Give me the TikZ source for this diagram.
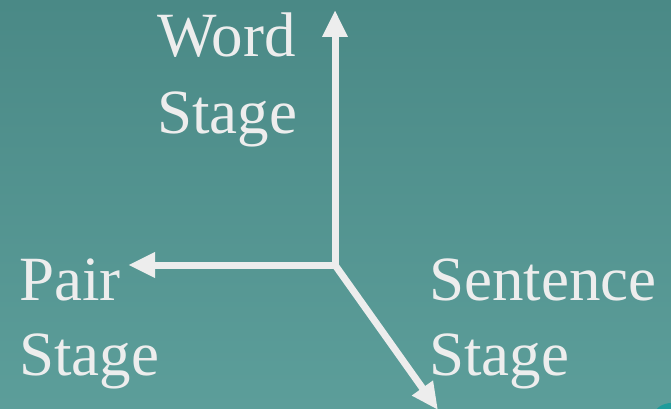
\documentclass[tikz,border=0pt]{standalone}
\usepackage{fontspec}
\setmainfont{Liberation Serif}
\usetikzlibrary{arrows.meta}
\definecolor{bgtop}{HTML}{4A8986}
\definecolor{bgbot}{HTML}{5C9E9A}
\definecolor{ink}{HTML}{EDEDED}
\definecolor{accent}{HTML}{1E9C9B}
\tikzset{
  axis/.style={draw=ink, line width=7pt, -{Triangle[width=24pt,length=27pt]}},
  label/.style={text=ink, inner sep=0pt, anchor=base west, font=\rmfamily\fontsize{63}{76}\selectfont},
}
\begin{document}
\begin{tikzpicture}[x=1pt,y=-1pt]
  % background
  \shade[top color=bgtop, bottom color=bgbot] (0,0) rectangle (671,409);
  \useasboundingbox (0,0) rectangle (671,409);
  \begin{scope}
    \clip (0,0) rectangle (671,409);
    \fill[accent] (672,414) ellipse (17pt and 11pt);
  \end{scope}

  % axes
  \coordinate (o) at (335,265);
  \coordinate (up) at (335,10);
  \coordinate (left) at (128,265);
  \coordinate (down) at (438,410);
  \draw[axis] (o) -- (up);
  \draw[axis] (o) -- (left);
  \draw[axis] (o) -- (down);

  % labels
  \node[label] (w1) at (157,57) {Word};
  \node[label] (w2) at (157,133) {Stage};
  \node[label] (p1) at (19,300) {Pair};
  \node[label] (p2) at (19,375) {Stage};
  \node[label] (s1) at (429,300) {Sentence};
  \node[label] (s2) at (429,375) {Stage};
\end{tikzpicture}
\end{document}
